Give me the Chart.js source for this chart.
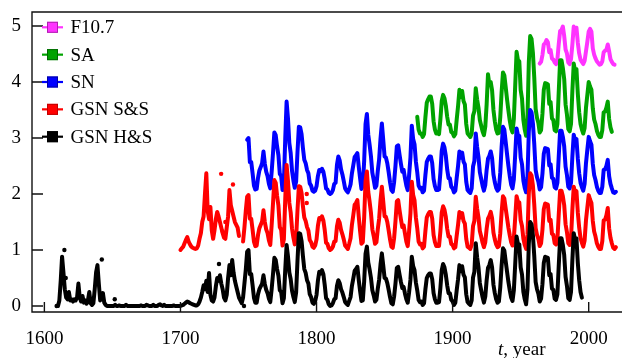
<!DOCTYPE html>
<html><head><meta charset="utf-8">
<script src="https://cdn.jsdelivr.net/npm/chart.js@4.4.1/dist/chart.umd.min.js"></script>
<style>html,body{margin:0;padding:0;background:#fff;overflow:hidden}canvas{display:block}</style>
</head><body>
<canvas id="c" width="624" height="358"></canvas>
<script>
// ---- tick labels ----
const xTicks = [1600, 1700, 1800, 1900, 2000];
const yTicks = [0, 1, 2, 3, 4, 5];
const legendNames = ['F10.7', 'SA', 'SN', 'GSN S&S', 'GSN H&S'];

// ---- vertical offsets of each index ----
const offF107 = 4, offSA = 3, offSN = 2, offGSS = 1, offGHS = 0;

// ---- F10.7 (normalised), yearly from 1964 ----
const f107Start = 1964;
const f107 = [0.33,0.36,0.48,0.67,0.69,0.75,0.71,0.53,0.57,0.42,
  0.40,0.35,0.32,0.41,0.68,0.91,0.93,0.99,0.82,0.58,
  0.51,0.35,0.32,0.41,0.67,0.99,0.88,0.97,0.70,0.51,
  0.40,0.36,0.32,0.38,0.55,0.72,0.90,0.95,0.90,0.60,
  0.49,0.42,0.37,0.34,0.31,0.32,0.37,0.53,0.56,0.57,
  0.67,0.55,0.41,0.36,0.32,0.31];

// ---- Sunspot area (normalised), yearly from 1874 ----
const saStart = 1874;
const sa = [0.38,0.15,0.08,0.08,0.02,
  0.07,0.37,0.63,0.69,0.74,0.74,0.61,0.30,0.15,0.08,0.08,
  0.07,0.33,0.66,0.77,0.71,0.58,0.38,0.24,0.24,0.11,0.09,0.03,
  0.07,0.33,0.57,0.86,0.73,0.84,0.66,0.60,0.25,0.08,0.05,0.02,
  0.08,0.40,0.48,0.89,0.69,0.54,0.32,0.22,0.12,0.05,
  0.20,0.60,1.14,0.95,1.00,0.85,0.50,0.30,0.15,0.08,
  0.09,0.37,0.82,1.17,1.12,0.91,0.69,0.49,0.31,0.17,0.10,
  0.34,0.94,1.54,1.39,1.37,0.86,0.70,0.32,0.15,0.04,
  0.36,1.36,1.82,1.77,1.52,1.08,0.52,0.36,0.27,0.10,
  0.14,0.43,0.86,0.98,0.97,0.96,0.61,0.64,0.35,0.32,0.14,0.12,
  0.25,0.84,1.39,1.39,1.25,1.05,0.60,0.42,0.16,0.12,
  0.25,0.84,1.33,1.20,1.23,0.79,0.46,0.25,0.15,0.08,
  0.18,0.54,0.77,1.00,0.92,0.86,0.53,0.33,0.25,0.13,0.06,0.02,
  0.02,0.14,0.46,0.47,0.54,0.65,0.34,0.19,0.11];

// ---- Sunspot number (normalised), yearly from 1749 ----
const snStart = 1749;
const sn = [0.97,1.00,0.57,0.57,0.37,0.15,
  0.08,0.09,0.29,0.42,0.48,0.55,0.76,0.54,0.40,0.32,0.18,0.10,
  0.39,0.73,1.10,1.05,0.85,0.69,0.36,0.32,0.07,
  0.21,0.99,1.65,1.35,0.91,0.73,0.41,0.24,0.11,
  0.22,0.75,1.20,1.19,1.07,0.82,0.61,0.55,0.43,0.37,0.19,0.15,0.06,0.04,
  0.06,0.14,0.32,0.43,0.41,0.45,0.40,0.27,0.10,0.08,0.02,0.00,
  0.02,0.07,0.18,0.20,0.52,0.67,0.60,0.44,0.35,0.23,0.10,0.06,0.03,
  0.09,0.17,0.37,0.51,0.66,0.69,0.73,0.49,0.28,0.09,
  0.14,0.59,1.25,1.43,1.06,0.88,0.67,0.38,0.25,0.11,
  0.15,0.41,0.62,0.99,1.26,0.97,0.67,0.65,0.55,0.39,0.21,0.07,
  0.04,0.21,0.50,0.85,0.87,0.70,0.54,0.40,0.43,0.28,0.15,0.07,
  0.33,0.65,1.22,0.98,0.89,0.58,0.39,0.15,0.10,0.11,0.03,
  0.06,0.34,0.57,0.63,0.67,0.67,0.55,0.27,0.14,0.07,0.07,
  0.08,0.38,0.77,0.90,0.83,0.68,0.44,0.28,0.28,0.13,0.10,0.03,
  0.06,0.29,0.50,0.76,0.65,0.74,0.58,0.53,0.22,0.07,0.04,0.02,
  0.10,0.49,0.59,1.08,0.84,0.66,0.39,0.27,0.15,0.06,
  0.16,0.43,0.63,0.68,0.76,0.64,0.35,0.21,0.11,0.06,
  0.09,0.38,0.84,1.20,1.15,0.93,0.71,0.50,0.32,0.17,0.10,
  0.26,0.71,1.17,1.05,1.04,0.65,0.53,0.24,0.11,0.03,
  0.30,1.12,1.50,1.46,1.26,0.89,0.43,0.30,0.22,0.08,
  0.12,0.36,0.72,0.82,0.81,0.80,0.51,0.53,0.29,0.27,0.12,0.10,
  0.20,0.68,1.13,1.13,1.02,0.85,0.49,0.34,0.13,0.10,
  0.20,0.67,1.06,0.96,0.98,0.63,0.37,0.20,0.12,0.06,
  0.18,0.55,0.79,1.02,0.94,0.88,0.54,0.34,0.25,0.13,0.06,0.02,
  0.02,0.13,0.43,0.44,0.50,0.61,0.32,0.18,0.10,0.03,0.02,0.04];

// ---- Group sunspot number, Svalgaard & Schatten, yearly from 1700 ----
const gssStart = 1700;
const gss = [0.00,0.03,0.06,0.12,0.18,0.23,0.15,0.10,0.06,0.04,
  0.03,0.02,0.03,0.08,0.20,0.30,0.50,0.60,1.00,1.37,
  0.70,0.55,0.77,0.35,0.20,0.35,0.55,0.68,0.60,0.50,
  0.40,0.30,0.22,0.20,0.40,0.60,1.07,0.80,0.70,0.60,
  0.50,0.45,0.40,0.25,null,null,0.15,0.40,0.70,
  0.95,0.98,0.56,0.56,0.36,0.15,
  0.07,0.08,0.27,0.39,0.45,0.51,0.71,0.50,0.37,0.30,0.17,0.09,
  0.44,0.83,1.25,1.20,0.97,0.79,0.41,0.36,0.08,
  0.19,0.91,1.52,1.24,0.84,0.67,0.38,0.22,0.10,
  0.21,0.71,1.14,1.13,1.02,0.78,0.58,0.52,0.41,0.35,0.18,0.14,0.06,0.04,
  0.08,0.19,0.43,0.57,0.55,0.60,0.53,0.36,0.13,0.11,0.03,0.00,
  0.02,0.06,0.15,0.16,0.42,0.54,0.49,0.36,0.28,0.19,0.08,0.05,0.02,
  0.11,0.21,0.45,0.62,0.81,0.84,0.89,0.60,0.34,0.11,
  0.14,0.58,1.23,1.40,1.04,0.86,0.66,0.37,0.25,0.11,
  0.14,0.37,0.56,0.89,1.13,0.87,0.60,0.59,0.50,0.35,0.19,0.06,
  0.04,0.21,0.51,0.87,0.89,0.71,0.55,0.41,0.44,0.29,0.15,0.07,
  0.33,0.65,1.22,0.98,0.89,0.58,0.39,0.15,0.10,0.11,0.03,
  0.06,0.34,0.58,0.64,0.68,0.68,0.56,0.27,0.14,0.07,0.07,
  0.07,0.33,0.67,0.78,0.72,0.59,0.38,0.24,0.24,0.11,0.09,0.03,
  0.05,0.26,0.45,0.68,0.58,0.66,0.52,0.47,0.20,0.06,0.04,0.02,
  0.09,0.43,0.52,0.95,0.74,0.58,0.34,0.24,0.13,0.05,
  0.14,0.38,0.56,0.61,0.68,0.57,0.31,0.19,0.10,0.05,
  0.07,0.30,0.67,0.96,0.92,0.74,0.57,0.40,0.26,0.14,0.08,
  0.21,0.58,0.96,0.86,0.85,0.53,0.43,0.20,0.09,0.02,
  0.27,1.02,1.37,1.33,1.15,0.81,0.39,0.27,0.20,0.07,
  0.12,0.36,0.73,0.83,0.82,0.81,0.52,0.54,0.29,0.27,0.12,0.10,
  0.19,0.64,1.06,1.06,0.96,0.80,0.46,0.32,0.12,0.09,
  0.21,0.72,1.13,1.03,1.05,0.67,0.40,0.21,0.13,0.06,
  0.17,0.53,0.76,0.98,0.90,0.84,0.52,0.33,0.24,0.12,0.06,0.02,
  0.02,0.16,0.53,0.54,0.62,0.75,0.39,0.22,0.12,0.04,0.02,0.05];
const gssDotYears = [1729.9, 1738.6, 1733.0, 1731.0, 1792.8, 1792.8];
const gssDotValues = [1.36, 1.17, 0.50, 0.33, 1.00, 0.84];

// ---- Group sunspot number, Hoyt & Schatten, yearly from 1610 ----
const ghsStart = 1610;
const ghs = [0.00,0.10,0.45,0.88,0.60,0.30,0.15,0.12,0.25,0.10,
  0.12,0.08,0.12,0.10,0.15,0.40,0.15,0.08,0.18,0.06,
  0.10,0.04,0.10,0.25,0.05,0.02,0.05,0.30,0.60,0.73,
  0.40,0.10,0.15,0.23,0.06,0.02,0.00,0.00,0.00,0.00,
  0.00,0.00,0.02,0.00,0.00,0.01,0.00,0.00,0.00,0.00,
  0.02,0.00,0.00,0.00,0.00,0.00,0.00,0.00,0.00,0.00,
  0.00,0.01,0.00,0.00,0.00,0.02,0.01,0.00,0.00,0.00,
  0.02,0.00,0.00,0.00,0.02,0.03,0.01,0.00,0.02,0.00,
  0.00,0.00,0.00,0.00,0.00,0.01,0.00,0.00,0.00,0.00,
  0.00,0.01,0.02,0.04,0.06,0.08,0.07,0.05,0.04,0.03,
  0.02,0.01,0.01,0.03,0.08,0.15,0.25,0.37,0.30,0.45,
  0.25,0.59,0.20,0.10,0.08,0.15,0.35,0.50,0.45,0.55,
  0.40,0.30,0.15,0.10,0.20,0.50,0.73,0.55,0.82,0.60,
  0.45,0.35,0.25,0.15,0.10,0.05,0.15,0.40,0.65,
  0.97,1.00,0.57,0.57,0.37,0.15,
  0.06,0.06,0.21,0.30,0.35,0.40,0.55,0.39,0.29,0.23,0.13,0.07,
  0.30,0.57,0.86,0.82,0.66,0.54,0.28,0.25,0.05,
  0.14,0.65,1.09,0.89,0.60,0.48,0.27,0.16,0.07,
  0.24,0.81,1.30,1.29,1.16,0.89,0.66,0.59,0.46,0.40,0.21,0.16,0.06,0.04,
  0.09,0.20,0.45,0.61,0.58,0.64,0.57,0.38,0.14,0.11,0.03,0.00,
  0.01,0.05,0.12,0.14,0.36,0.46,0.41,0.30,0.24,0.16,0.07,0.04,0.02,
  0.09,0.16,0.36,0.49,0.63,0.66,0.70,0.47,0.27,0.09,
  0.10,0.44,0.93,1.06,0.78,0.65,0.50,0.28,0.19,0.08,
  0.11,0.31,0.47,0.74,0.94,0.73,0.50,0.49,0.41,0.29,0.16,0.05,
  0.03,0.17,0.40,0.68,0.70,0.56,0.43,0.32,0.34,0.22,0.12,0.06,
  0.24,0.47,0.88,0.71,0.64,0.42,0.28,0.11,0.07,0.08,0.02,
  0.05,0.30,0.50,0.55,0.58,0.58,0.48,0.23,0.12,0.06,0.06,
  0.07,0.32,0.64,0.75,0.69,0.56,0.37,0.23,0.23,0.11,0.08,0.02,
  0.06,0.28,0.48,0.73,0.62,0.71,0.56,0.51,0.21,0.07,0.04,0.02,
  0.10,0.51,0.61,1.12,0.87,0.69,0.41,0.28,0.16,0.06,
  0.17,0.46,0.68,0.73,0.82,0.69,0.38,0.23,0.12,0.06,
  0.08,0.33,0.72,1.03,0.99,0.80,0.61,0.43,0.28,0.15,0.09,
  0.28,0.75,1.24,1.11,1.10,0.69,0.56,0.25,0.12,0.03,
  0.30,1.12,1.50,1.46,1.26,0.89,0.43,0.30,0.22,0.08,
  0.13,0.39,0.77,0.88,0.87,0.86,0.55,0.57,0.31,0.29,0.13,0.11,
  0.21,0.73,1.21,1.21,1.09,0.91,0.52,0.36,0.14,0.11,
  0.25,0.82,1.30,1.18,1.21,0.77,0.46,0.25,0.15];
const ghsDotYears = [1609.0, 1614.7, 1615.7, 1642.2, 1651.7, 1728.3, 1746.7];
const ghsDotValues = [0.00, 1.00, 0.50, 0.83, 0.12, 0.75, 0.00];

// ---- colours ----
const colF107 = '#ff33ff', colSA = '#00a300', colSN = '#0000ff', colGSS = '#ff0000', colGHS = '#000000';
const legendFill = [colF107, colSA, colSN, colGSS, colGHS];
const legendEdge = ['#b020b0', '#006a00', '#0000a0', '#c00000', '#000000'];

function series(start, vals, off) {
  return vals.map((v, i) => ({x: start + i, y: v == null ? null : v + off}));
}
function dots(xs, vs, off) {
  return xs.map((x, i) => ({x: x, y: vs[i] + off}));
}
const FONT = '"Liberation Serif", "Times New Roman", serif';

function lineDs(data, color, order) {
  return {data, borderColor: color, backgroundColor: color, borderWidth: 4,
    pointRadius: 0, tension: 0, spanGaps: false, fill: false, order,
    borderJoinStyle: 'round', borderCapStyle: 'round'};
}
function dotDs(data, color, order) {
  return {data, showLine: false, pointRadius: 2.2, pointBorderWidth: 0,
    pointBackgroundColor: color, borderColor: color, order};
}
function noPad(s) { s.paddingLeft = 0; s.paddingRight = 0; s.paddingTop = 0; s.paddingBottom = 0; }

const framePlugin = {
  id: 'frame',
  afterDraw(chart) {
    const {ctx, chartArea: a, scales: {x, y}} = chart;
    ctx.save();
    ctx.strokeStyle = '#111';
    ctx.lineWidth = 1.4;
    ctx.beginPath();
    ctx.moveTo(a.right + 2, a.top); ctx.lineTo(a.left, a.top);
    ctx.lineTo(a.left, a.bottom); ctx.lineTo(a.right + 2, a.bottom);
    ctx.stroke();
    ctx.beginPath();
    yTicks.forEach(v => { const p = y.getPixelForValue(v); ctx.moveTo(a.left, p); ctx.lineTo(a.left + 11, p); });
    xTicks.forEach(v => { const p = x.getPixelForValue(v); ctx.moveTo(p, a.bottom); ctx.lineTo(p, a.bottom - 10); });
    ctx.stroke();
    // legend
    ctx.font = '19px ' + FONT;
    ctx.textBaseline = 'middle';
    ctx.textAlign = 'left';
    legendNames.forEach((name, i) => {
      const cy = 27.3 + i * 27.35;
      ctx.strokeStyle = legendFill[i];
      ctx.lineWidth = 2.2;
      ctx.beginPath(); ctx.moveTo(42, cy); ctx.lineTo(63, cy); ctx.stroke();
      ctx.fillStyle = legendFill[i];
      ctx.fillRect(47, cy - 5.5, 11, 11);
      ctx.strokeStyle = legendEdge[i];
      ctx.lineWidth = 1;
      ctx.strokeRect(47.5, cy - 5, 10, 10);
      ctx.fillStyle = '#000';
      ctx.fillText(name, 70.5, cy + 1);
    });
    // axis title
    ctx.textBaseline = 'alphabetic';
    ctx.font = 'italic 19px ' + FONT;
    ctx.fillText('t', 498, 355);
    const tw = ctx.measureText('t').width;
    ctx.font = '19px ' + FONT;
    ctx.fillText(', year', 498 + tw, 355);
    ctx.restore();
  }
};

new Chart(document.getElementById('c'), {
  type: 'line',
  data: {
    datasets: [
      dotDs(dots(ghsDotYears, ghsDotValues, offGHS), colGHS, -1),
      dotDs(dots(gssDotYears, gssDotValues, offGSS), colGSS, -1),
      lineDs(series(ghsStart, ghs, offGHS), colGHS, 0),
      lineDs(series(gssStart, gss, offGSS), colGSS, 1),
      lineDs(series(snStart, sn, offSN), colSN, 2),
      lineDs(series(saStart, sa, offSA), colSA, 3),
      lineDs(series(f107Start, f107, offF107), colF107, 4)
    ]
  },
  options: {
    responsive: false, animation: false, devicePixelRatio: 1,
    layout: {padding: {top: 12, right: 0, left: 0, bottom: 0}},
    plugins: {legend: {display: false}, tooltip: {enabled: false}},
    scales: {
      x: {
        type: 'linear', min: 1590.9, max: 2023,
        border: {display: false},
        grid: {display: false, drawTicks: false},
        ticks: {font: {family: FONT, size: 19}, color: '#000', padding: 16, maxRotation: 0,
          callback: v => String(v)},
        afterBuildTicks: s => { s.ticks = xTicks.map(v => ({value: v})); },
        afterFit: s => { s.height = 46; noPad(s); }
      },
      y: {
        type: 'linear', min: -0.107, max: 5.25,
        border: {display: false},
        grid: {display: false, drawTicks: false},
        ticks: {font: {family: FONT, size: 19}, color: '#000', padding: 11,
          callback: v => String(v)},
        afterBuildTicks: s => { s.ticks = yTicks.map(v => ({value: v})); },
        afterFit: s => { s.width = 32; noPad(s); }
      }
    }
  },
  plugins: [framePlugin]
});
</script>
</body></html>
